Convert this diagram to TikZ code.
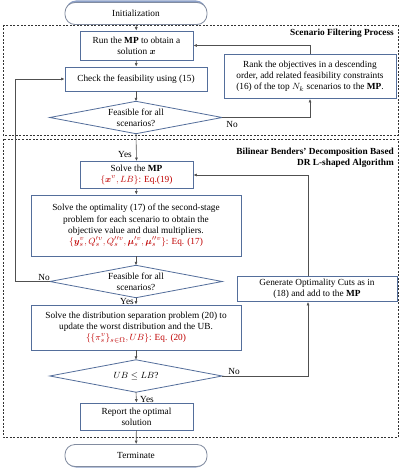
\documentclass[tikz,border=0pt]{standalone}
\usepackage{amsmath}
\usepackage{bm}
\usepackage{fontspec}
\setmainfont{Liberation Serif}
\usetikzlibrary{arrows.meta,calc}
\definecolor{boxc}{RGB}{84,110,155}
\definecolor{redc}{RGB}{192,0,0}
\definecolor{linec}{RGB}{80,80,80}
\definecolor{termc}{RGB}{130,140,160}
\definecolor{shadc}{RGB}{140,160,200}
\begin{document}
\begin{tikzpicture}[x=1pt,y=-1pt,
 font=\fontsize{9.3}{11.2}\selectfont,
 box/.style={draw=boxc,line width=0.8pt,align=center,inner sep=1pt},
 term/.style={draw=termc,fill=white,line width=0.8pt,rounded corners=10pt,minimum width=142pt,minimum height=22pt},
 dia/.style={minimum width=172pt,minimum height=32pt,inner sep=0pt,align=center},
 diaborder/.style={draw=boxc,line width=0.8pt},
 conn/.style={draw=linec,line width=0.6pt,-{Latex[length=3.5pt,width=3pt]}},
 frame/.style={draw=black!80,dash pattern=on 2pt off 1.5pt,line width=0.7pt},
 lab/.style={inner sep=1pt},
 ttl/.style={font=\fontsize{9.3}{11.2}\selectfont\bfseries,align=right,anchor=north east,inner sep=0pt}
]
\useasboundingbox (0,0) rectangle (400,468);
\fill[white] (0,0) rectangle (400,468);

\draw[frame] (3,25) rectangle (398,135);
\draw[frame] (3,139) rectangle (398,437);
\node[ttl] (t1) at (394,29) {Scenario Filtering Process};
\node[ttl] (t2) at (394,148) {Bilinear Benders' Decomposition Based\\DR L-shaped Algorithm};

\fill[shadc,rounded corners=10pt] (66,0.5) rectangle (206,22);
\node[term] (init) at (136,13.5) {Initialization};
\node[box,minimum width=113pt,minimum height=29pt] (run) at (136.5,45.5) {Run the \textbf{MP} to obtain a\\ solution $\bm{x}$};
\node[box,minimum width=142pt,minimum height=24pt] (check) at (136,79) {Check the feasibility using (15)};
\node[dia] (d1) at (136,117.5) {Feasible for all\\ scenarios?};
\node[box,minimum width=172pt,minimum height=44pt] (rank) at (310,76.5) {Rank the objectives in a descending\\ order, add related feasibility constraints\\ (16) of the top $N_k$ scenarios to the \textbf{MP}.};

\node[box,minimum width=113pt,minimum height=27pt] (smp) at (136.5,175) {Solve the \textbf{MP}\\ \textcolor{redc}{$\{\bm{x}^v, LB\}$: Eq.(19)}};
\node[box,minimum width=210pt,minimum height=61pt] (opt) at (136,225.5) {Solve the optimality (17) of the second-stage\\ problem for each scenario to obtain the\\ objective value and dual multipliers.\\ \textcolor{redc}{$\{\bm{y}_s^{v}, Q_s^{\prime v}, Q_s^{\prime\prime v}, \bm{\mu}_s^{\prime v}, \bm{\mu}_s^{\prime\prime v}\}$: Eq. (17)}};
\node[dia] (d2) at (136,281.5) {Feasible for all\\ scenarios?};
\node[box,minimum width=210pt,minimum height=45pt] (dist) at (136,327.5) {Solve the distribution separation problem (20) to\\ update the worst distribution and the UB.\\ \textcolor{redc}{$\{\{\pi_s^v\}_{s\in\Omega}, UB\}$: Eq. (20)}};
\node[dia] (d3) at (136,376) {$UB \le LB$?};
\node[box,minimum width=160pt,minimum height=25pt] (gen) at (317,289) {Generate Optimality Cuts as in\\ (18) and add to the \textbf{MP}};
\node[box,minimum width=113pt,minimum height=27pt] (report) at (136.5,416.5) {Report the optimal\\ solution};
\fill[shadc,rounded corners=10pt] (66,447) rectangle (206,467.5);
\node[term] (term) at (136,455.5) {Terminate};

\foreach \d in {d1,d2,d3}
  \draw[diaborder] (\d.west) -- (\d.north) -- (\d.east) -- (\d.south) -- cycle;

\coordinate (gx) at (308,0);
\coordinate (lx) at (15,0);

\draw[conn] (init) -- (run);
\draw[conn] (run) -- (check);
\draw[conn] (check) -- (d1.north);
\draw[conn] (d1.south) -- (smp.north);
\node[lab] (y1) at (125,154) {Yes};
\draw[conn] (d1.east) -| (rank.south);
\node[lab] (n1) at (232,125) {No};
\draw[conn] (rank.north) |- (run.east);
\draw[conn] (smp) -- (opt);
\draw[conn] (opt) -- (d2.north);
\draw[conn] (d2.west) -| (lx |- check.west) -- (check.west);
\node[lab] (n2) at (44,277) {No};
\draw[conn] (d2.south) -- (dist.north);
\node[lab] (y2) at (127,301) {Yes};
\draw[conn] (dist) -- (d3.north);
\draw[conn] (d3.east) -| (gx |- gen.south);
\node[lab] (n3) at (234,371) {No};
\draw[conn] (gx |- gen.north) |- (smp.east);
\draw[conn] (d3.south) -- (report.north);
\node[lab] (y3) at (147,399) {Yes};
\draw[conn] (report) -- (term);
\end{tikzpicture}
\end{document}
